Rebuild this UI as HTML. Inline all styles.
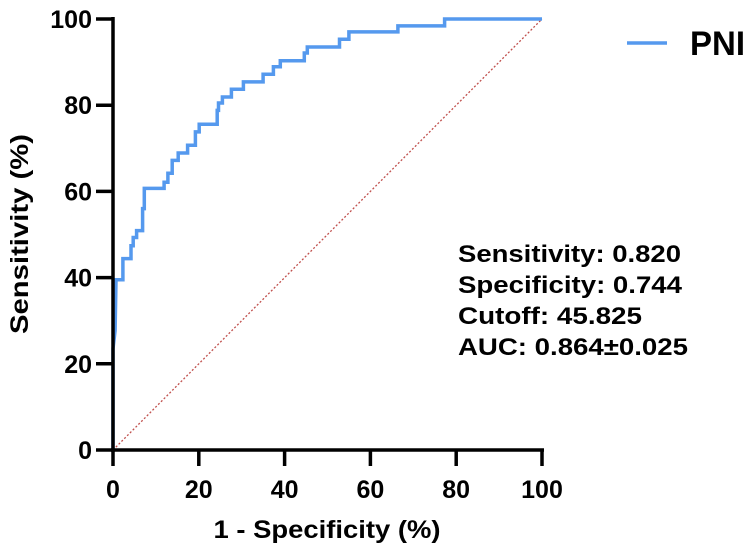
<!DOCTYPE html>
<html><head><meta charset="utf-8">
<style>
html,body{margin:0;padding:0;background:#fff;}
svg{display:block;font-family:"Liberation Sans",Arial,sans-serif;font-weight:bold;}
</style></head>
<body>
<svg id="chart" width="750" height="551">
  <g id="plot"></g>
</svg>
<script>
const fpr = [0,0,0.5,0.7,2.3,2.3,4.2,4.2,4.7,4.7,5.5,5.5,6.9,6.9,7.3,7.3,11.9,11.9,12.8,12.8,13.8,13.8,15.2,15.2,17.4,17.4,19.2,19.2,20.1,20.1,24.3,24.3,24.6,24.6,25.5,25.5,27.6,27.6,30.4,30.4,35,35,37.4,37.4,39,39,44.6,44.6,45.3,45.3,52.8,52.8,55,55,66.4,66.4,77.3,77.3,100];
const tpr = [0,23.5,27.7,39.5,39.5,44.4,44.4,47.4,47.4,49.3,49.3,50.9,50.9,56,56,60.7,60.7,62.1,62.1,64.2,64.2,67.2,67.2,68.9,68.9,70.7,70.7,73.8,73.8,75.6,75.6,78.8,78.8,80.5,80.5,81.9,81.9,83.7,83.7,85.4,85.4,87.2,87.2,88.9,88.9,90.3,90.3,92.1,92.1,93.5,93.5,95.3,95.3,97,97,98.4,98.4,100,100];
const xTicks = [0,20,40,60,80,100];
const yTicks = [0,20,40,60,80,100];
const stats = ["Sensitivity: 0.820","Specificity: 0.744","Cutoff: 45.825","AUC: 0.864±0.025"];
const statWidths = [223,224,184,230];

const NS="http://www.w3.org/2000/svg";
const g=document.getElementById('plot');
const X0=113,X1=542,Y0=450,Y1=19;
const sx=v=>X0+(X1-X0)*v/100;
const sy=v=>Y0-(Y0-Y1)*v/100;
function mk(t,a,p){const e=document.createElementNS(NS,t);for(const k in a)e.setAttribute(k,a[k]);(p||g).appendChild(e);return e;}

const diag=mk('line',{x1:sx(0),y1:sy(0),x2:sx(100),y2:sy(100),stroke:'#c0504d','stroke-width':1.3,'stroke-dasharray':'2,2'});



let d='';
for(let i=0;i<fpr.length;i++){d+=(i?'L':'M')+sx(fpr[i]).toFixed(1)+','+sy(tpr[i]).toFixed(1);}
const curve=mk('path',{d:d,fill:'none',stroke:'#5599ee','stroke-width':3.5});



const ya=mk('line',{x1:X0,y1:Y1-2,x2:X0,y2:Y0+2,stroke:'#000','stroke-width':3.5});


const xa=mk('line',{x1:X0-2,y1:Y0,x2:X1+2,y2:Y0,stroke:'#000','stroke-width':3.5});



yTicks.forEach(v=>{
  const t=mk('line',{x1:X0-17,y1:sy(v),x2:X0,y2:sy(v),stroke:'#000','stroke-width':3.5});
  
  
  const l=mk('text',{x:X0-21,y:sy(v)+9,'text-anchor':'end','font-size':25});
  l.textContent=v;
  
  
});
xTicks.forEach(v=>{
  const t=mk('line',{x1:sx(v),y1:Y0,x2:sx(v),y2:Y0+16,stroke:'#000','stroke-width':3.5});
  
  
  const l=mk('text',{x:sx(v),y:Y0+48,'text-anchor':'middle','font-size':25});
  l.textContent=v;
  
  
});

const xt=mk('text',{x:327,y:538,'text-anchor':'middle','font-size':25,textLength:227,lengthAdjust:'spacingAndGlyphs'});
xt.textContent='1 - Specificity (%)';


const yt=mk('text',{x:0,y:0,'text-anchor':'middle','font-size':25,textLength:200,lengthAdjust:'spacingAndGlyphs',transform:'translate(28,234) rotate(-90)'});
yt.textContent='Sensitivity (%)';



const lg=mk('line',{x1:627,y1:43,x2:667,y2:43,stroke:'#5599ee','stroke-width':3.5});


const lt=mk('text',{x:690,y:55,'font-size':34,textLength:55,lengthAdjust:'spacingAndGlyphs'});
lt.textContent='PNI';



stats.forEach((s,i)=>{
  const t=mk('text',{x:458,y:262+i*31,'font-size':24,textLength:statWidths[i],lengthAdjust:'spacingAndGlyphs'});
  t.textContent=s;
  
  
});
</script>
</body></html>
